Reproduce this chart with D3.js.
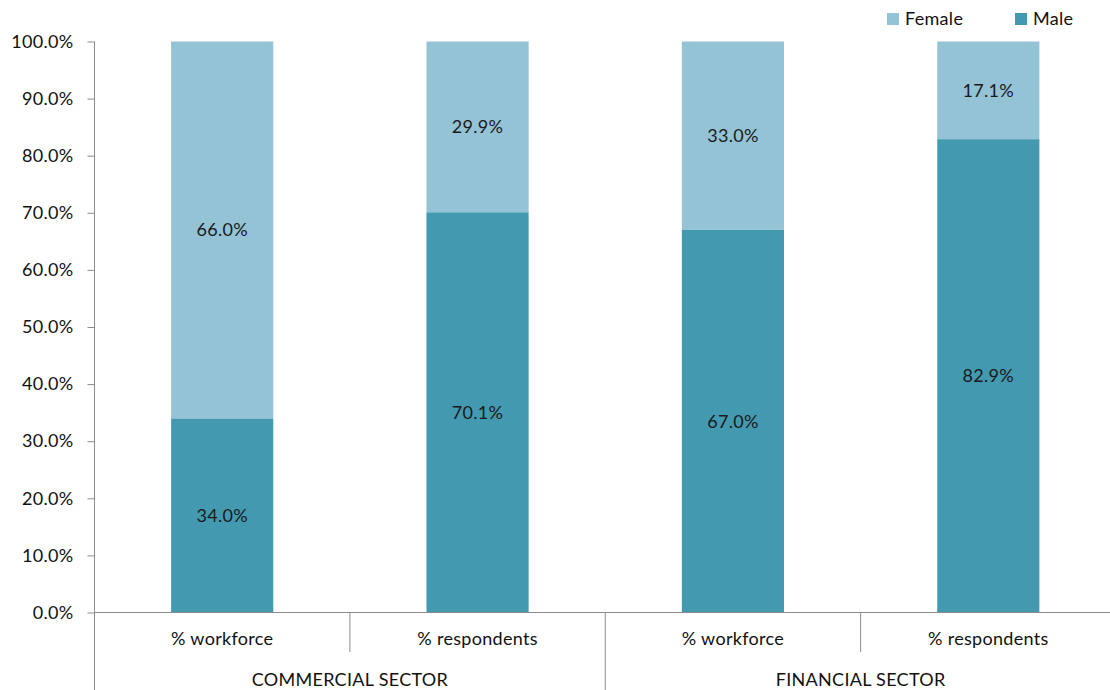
<!DOCTYPE html>
<html>
<head>
<meta charset="utf-8">
<script src="https://cdn.jsdelivr.net/npm/d3@7"></script>
<style>
  html, body { margin: 0; padding: 0; background: #fff; }
  svg { display: block; font-family: Lato, "Open Sans", sans-serif; letter-spacing: 0.3px; }
</style>
</head>
<body>
<svg id="chart" width="1110" height="690"></svg>
<script>
// Gender split by sector: share of workforce vs. share of survey respondents
const categories = ["% workforce", "% respondents", "% workforce", "% respondents"];
const groups = ["COMMERCIAL SECTOR", "FINANCIAL SECTOR"];
const groupOfCategory = [0, 0, 1, 1];
const male = [34.0, 70.1, 67.0, 82.9];
const female = [66.0, 29.9, 33.0, 17.1];
const seriesNames = ["Female", "Male"];
const yTicks = [0, 10, 20, 30, 40, 50, 60, 70, 80, 90, 100];

const colors = { Male: "#4399b0", Female: "#93c3d5" };
const axisColor = "#8c8c8c";
const fontSize = 18;

const svg = d3.select("#chart");
const plotLeft = 94.5, plotRight = 1116, plotTop = 41.5, plotBottom = 612.5;

const x = d3.scaleBand()
  .domain(d3.range(categories.length))
  .range([plotLeft, plotRight])
  .paddingInner(0.6)
  .paddingOuter(0.3);

const y = d3.scaleLinear().domain([0, 100]).range([plotBottom, plotTop]);

const rows = categories.map((c, i) => ({ i, Male: male[i], Female: female[i] }));
const stack = d3.stack().keys(["Male", "Female"])(rows);

// stacked bars
const layer = svg.append("g").selectAll("g")
  .data(stack)
  .join("g")
  .attr("fill", d => colors[d.key]);

layer.selectAll("rect")
  .data(d => d)
  .join("rect")
  .attr("x", d => x(d.data.i))
  .attr("width", x.bandwidth())
  .attr("y", d => y(d[1]))
  .attr("height", d => y(d[0]) - y(d[1]));

// value labels centred in each segment
layer.selectAll("text")
  .data(d => d.map(s => ({ s, key: d.key })))
  .join("text")
  .attr("x", d => x(d.s.data.i) + x.bandwidth() / 2)
  .attr("y", d => y((d.s[0] + d.s[1]) / 2))
  .attr("dy", "0.35em")
  .attr("text-anchor", "middle")
  .attr("fill", "#1a1a1a")
  .attr("font-size", fontSize)
  .text(d => d.s.data[d.key].toFixed(1) + "%");

// y axis
const yAxis = svg.append("g")
  .attr("transform", `translate(${plotLeft},0)`)
  .call(d3.axisLeft(y).tickValues(yTicks).tickSize(7).tickSizeOuter(0).tickPadding(14)
    .tickFormat(d => d.toFixed(1) + "%"));
yAxis.select(".domain").remove();
yAxis.selectAll("line").attr("stroke", axisColor);
yAxis.selectAll("text").attr("font-size", fontSize).attr("fill", "#111")
  .attr("font-family", "Lato, 'Open Sans', sans-serif");

// vertical axis line running down through the category rows
svg.append("line")
  .attr("x1", plotLeft).attr("x2", plotLeft)
  .attr("y1", plotTop).attr("y2", 690)
  .attr("stroke", axisColor);

// horizontal baseline
svg.append("line")
  .attr("x1", plotLeft).attr("x2", plotRight)
  .attr("y1", plotBottom).attr("y2", plotBottom)
  .attr("stroke", axisColor);

// category separators: short between categories, long between groups
const step = x.step();
const boundaries = d3.range(1, categories.length + 1);
svg.append("g").selectAll("line")
  .data(boundaries)
  .join("line")
  .attr("x1", b => plotLeft + b * step)
  .attr("x2", b => plotLeft + b * step)
  .attr("y1", plotBottom)
  .attr("y2", b => (b === categories.length || groupOfCategory[b] !== groupOfCategory[b - 1]) ? 690 : 652)
  .attr("stroke", axisColor);

// category labels
svg.append("g").selectAll("text")
  .data(categories)
  .join("text")
  .attr("x", (c, i) => x(i) + x.bandwidth() / 2)
  .attr("y", 639)
  .attr("dy", "0.35em")
  .attr("text-anchor", "middle")
  .attr("font-size", fontSize)
  .attr("fill", "#111")
  .text(c => c);

// group labels
svg.append("g").selectAll("text")
  .data(groups)
  .join("text")
  .attr("x", (g, gi) => {
    const idx = groupOfCategory.map((v, i) => v === gi ? i : -1).filter(i => i >= 0);
    return plotLeft + (d3.min(idx) + d3.max(idx) + 1) / 2 * step;
  })
  .attr("y", 680)
  .attr("dy", "0.35em")
  .attr("text-anchor", "middle")
  .attr("font-size", fontSize)
  .attr("fill", "#111")
  .text(g => g);

// legend
const legendX = [887, 1015];
const legend = svg.append("g").selectAll("g")
  .data(seriesNames)
  .join("g")
  .attr("transform", (d, i) => `translate(${legendX[i]},13)`);
legend.append("rect").attr("width", 12).attr("height", 12).attr("fill", d => colors[d]);
legend.append("text")
  .attr("x", 18).attr("y", 6).attr("dy", "0.35em")
  .attr("font-size", fontSize).attr("fill", "#111")
  .text(d => d);
</script>
</body>
</html>
